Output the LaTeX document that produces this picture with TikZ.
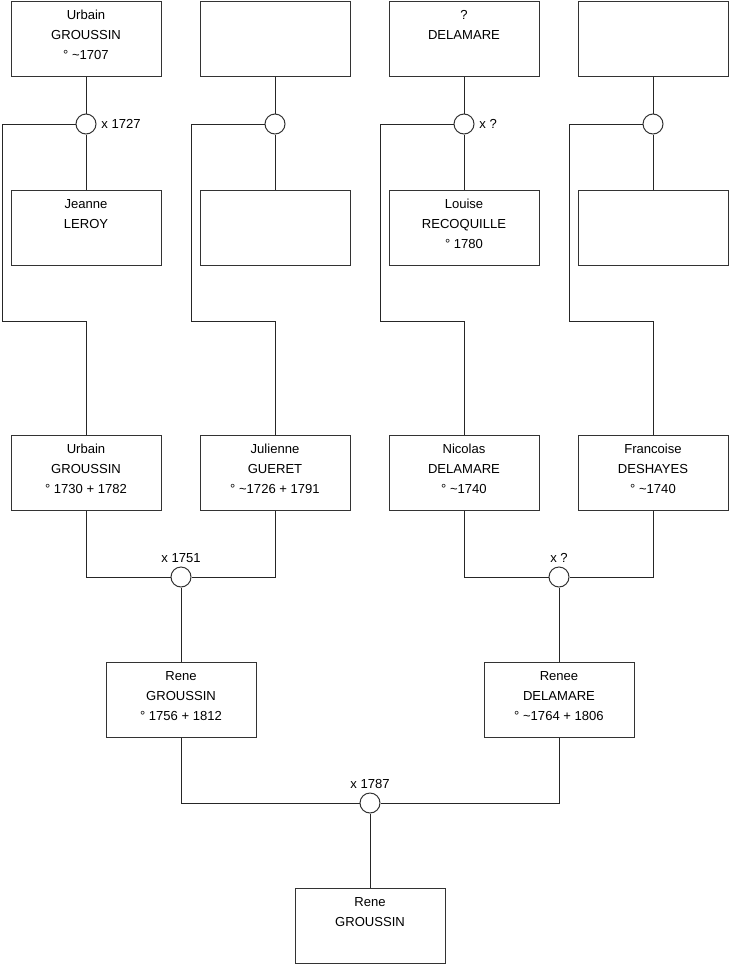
\documentclass[tikz,border=0pt]{standalone}
\usepackage{fontspec}
\setmainfont{Liberation Sans}
\usepackage{tikz}
\usetikzlibrary{positioning, calc}

% three text lines of a person box, pushed a little towards the top
\newcommand{\who}[3]{\strut#1\\\strut#2\\\strut#3\rule[-8.5pt]{0pt}{1pt}}

\begin{document}
\begin{tikzpicture}[
    x=0.75pt, y=-0.75pt,
    person/.style={rectangle, draw=black!80, line width=0.75pt,
                minimum height=56.25pt, minimum width=112.5pt,
                align=center, font=\fontsize{9.8}{15}\selectfont, inner sep=0pt},
    wed/.style={circle, draw=black!80, fill=white, line width=0.75pt,
                minimum size=15pt, inner sep=0pt},
    link/.style={black!85, line width=0.75pt},
    lbl/.style={font=\fontsize{9.8}{11}\selectfont, inner sep=1.5pt},
  ]
  \useasboundingbox (0,0) rectangle (740,975);

  % Column x-centres and row y-centres, in pixels (y runs downwards)
  % Levels: 1=great-grandparents  2=parents  3=couple  4=child
  \def\xA{86}   \def\xB{275}  \def\xC{464}  \def\xD{653}
  \def\xL{84}   % offset of the side line left of each column

  \def\yOne{38.5}    % top row
  \def\yWed{124}     % marriage circles, top
  \def\yTwo{227.5}   % spouse row
  \def\yKnee{321}    % bend of the side lines
  \def\yThree{472.5} % grandparents
  \def\yCpl{577}     % marriage circles, middle
  \def\yFour{699.5}  % parents
  \def\yFin{803}     % last marriage circle
  \def\yFive{925.5}  % child

  % ── Top generation ──────────────────────────────────────────────
  \node[person] (gA) at (\xA, \yOne) {\who{Urbain}{GROUSSIN}{° \textasciitilde1707}};
  \node[person] (gB) at (\xB, \yOne) {};
  \node[person] (gC) at (\xC, \yOne) {\who{?}{DELAMARE}{}};
  \node[person] (gD) at (\xD, \yOne) {};

  \node[wed] (wA) at (\xA, \yWed) {};
  \node[wed] (wB) at (\xB, \yWed) {};
  \node[wed] (wC) at (\xC, \yWed) {};
  \node[wed] (wD) at (\xD, \yWed) {};
  \node[lbl, right=2pt of wA] {x 1727};
  \node[lbl, right=2pt of wC] {x ?};

  \node[person] (sA) at (\xA, \yTwo) {\who{Jeanne}{LEROY}{}};
  \node[person] (sB) at (\xB, \yTwo) {};
  \node[person] (sC) at (\xC, \yTwo) {\who{Louise}{RECOQUILLE}{° 1780}};
  \node[person] (sD) at (\xD, \yTwo) {};

  % ── Grandparents ────────────────────────────────────────────────
  \node[person] (cA) at (\xA, \yThree) {\who{Urbain}{GROUSSIN}{° 1730 + 1782}};
  \node[person] (cB) at (\xB, \yThree) {\who{Julienne}{GUERET}{° \textasciitilde1726 + 1791}};
  \node[person] (cC) at (\xC, \yThree) {\who{Nicolas}{DELAMARE}{° \textasciitilde1740}};
  \node[person] (cD) at (\xD, \yThree) {\who{Francoise}{DESHAYES}{° \textasciitilde1740}};

  % side lines: circle -> left -> down -> child box
  \foreach \c/\x in {A/\xA, B/\xB, C/\xC, D/\xD} {
    \coordinate (k\c) at (\x-\xL, \yKnee);
    \draw[link] (g\c.south) -- (w\c.north);
    \draw[link] (w\c.south) -- (s\c.north);
    \draw[link] (w\c.west) -| (k\c) -| (c\c.north);
  }

  % ── Parents ─────────────────────────────────────────────────────
  \node[wed] (wL) at (181, \yCpl) {};
  \node[wed] (wR) at (559, \yCpl) {};
  \node[lbl, above=1pt of wL] {x 1751};
  \node[lbl, above=1pt of wR] {x ?};

  \draw[link] (cA.south) |- (wL.west);
  \draw[link] (cB.south) |- (wL.east);
  \draw[link] (cC.south) |- (wR.west);
  \draw[link] (cD.south) |- (wR.east);

  \node[person] (pL) at (181, \yFour) {\who{Rene}{GROUSSIN}{° 1756 + 1812}};
  \node[person] (pR) at (559, \yFour) {\who{Renee}{DELAMARE}{° \textasciitilde1764 + 1806}};

  \draw[link] (wL.south) -- (pL.north);
  \draw[link] (wR.south) -- (pR.north);

  % ── Child ───────────────────────────────────────────────────────
  \node[wed] (wF) at (370, \yFin) {};
  \node[lbl, above=1pt of wF] {x 1787};

  \draw[link] (pL.south) |- (wF.west);
  \draw[link] (pR.south) |- (wF.east);

  \node[person] (kid) at (370, \yFive) {\who{Rene}{GROUSSIN}{}};
  \draw[link] (wF.south) -- (kid.north);

\end{tikzpicture}
\end{document}
